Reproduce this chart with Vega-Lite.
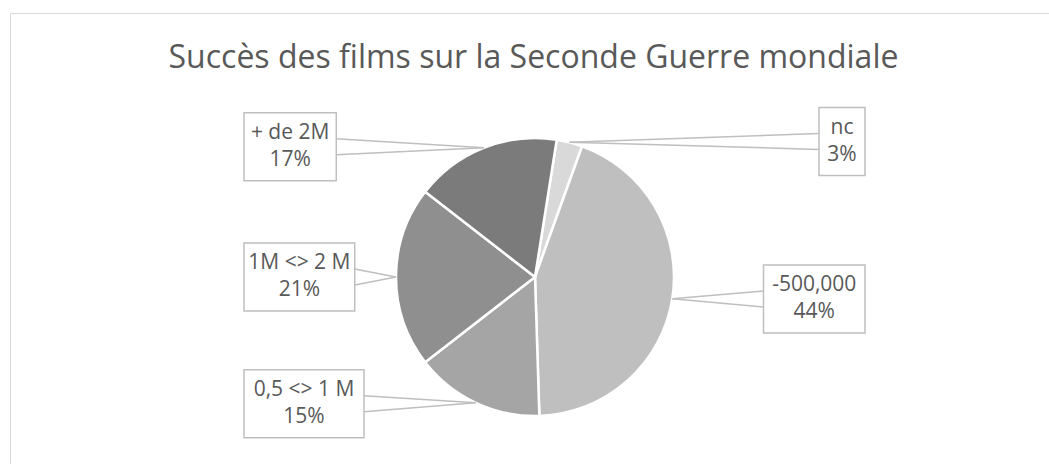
{
  "$schema": "https://vega.github.io/schema/vega-lite/v6.json",
  "width": 1039,
  "height": 451,
  "autosize": "none",
  "padding": {"left": 10, "top": 13, "right": 0, "bottom": 0},
  "background": "white",
  "config": {"view": {"stroke": "#d9d9d9", "strokeWidth": 1}, "font": "Open Sans"},
  "title": {
    "text": "Succès des films sur la Seconde Guerre mondiale",
    "font": "Open Sans",
    "fontSize": 32,
    "fontWeight": "normal",
    "color": "#595959",
    "anchor": "middle",
    "offset": -62,
    "dx": 4
  },
  "data": {
    "values": [
      {"categorie": "nc", "part": 3, "ordre": 1},
      {"categorie": "-500,000", "part": 44, "ordre": 2},
      {"categorie": "0,5 <> 1 M", "part": 15, "ordre": 3},
      {"categorie": "1M <> 2 M", "part": 21, "ordre": 4},
      {"categorie": "+ de 2M", "part": 17, "ordre": 5}
    ]
  },
  "transform": [
    {"window": [{"op": "sum", "field": "part", "as": "cumul"}], "sort": [{"field": "ordre"}], "frame": [null, 0]},
    {"joinaggregate": [{"op": "sum", "field": "part", "as": "total"}]},
    {"calculate": "(datum.cumul - datum.part / 2) / datum.total * 2 * PI + 0.15708", "as": "milieu"},
    {"calculate": "sin(datum.milieu) >= 0 ? 1 : -1", "as": "cote"},
    {"calculate": "datum.categorie + '\\n' + datum.part + '%'", "as": "etiquette"},
    {"calculate": "max(length(datum.categorie), length(datum.part + '%')) * 9.25 + 27.5", "as": "larg"},
    {"calculate": "datum.cote > 0 ? 330 - datum.larg : -291", "as": "bx1"},
    {"calculate": "datum.bx1 + datum.larg", "as": "bx2"},
    {"calculate": "(datum.bx1 + datum.bx2) / 2", "as": "bxc"},
    {"calculate": "cos(datum.milieu) * 140", "as": "byc"},
    {"calculate": "datum.byc - 34", "as": "by1"},
    {"calculate": "datum.byc + 34", "as": "by2"},
    {"calculate": "sin(datum.milieu) * 139", "as": "px"},
    {"calculate": "cos(datum.milieu) * 139", "as": "py"},
    {"calculate": "datum.cote > 0 ? datum.bx1 : datum.bx2", "as": "ax"},
    {"calculate": "datum.byc + 8", "as": "ay1"},
    {"calculate": "datum.byc - 8", "as": "ay2"}
  ],
  "layer": [
    {
      "mark": {"type": "arc", "outerRadius": 139, "stroke": "white", "strokeWidth": 2.5},
      "encoding": {
        "x": {"datum": 0, "type": "quantitative", "scale": {"domain": [-525, 514], "nice": false, "zero": false}, "axis": null},
        "y": {"datum": 0, "type": "quantitative", "scale": {"domain": [-187, 264], "nice": false, "zero": false}, "axis": null},
        "theta": {"field": "part", "type": "quantitative", "stack": true, "scale": {"range": [0.15708, 6.44026]}},
        "color": {
          "field": "categorie",
          "type": "nominal",
          "scale": {
            "domain": ["nc", "-500,000", "0,5 <> 1 M", "1M <> 2 M", "+ de 2M"],
            "range": ["#d9d9d9", "#bfbfbf", "#a5a5a5", "#8f8f8f", "#7b7b7b"]
          },
          "legend": null
        },
        "order": {"field": "ordre", "type": "quantitative"}
      }
    },
    {
      "mark": {"type": "rule", "color": "#bfbfbf", "strokeWidth": 1.5},
      "encoding": {
        "x": {"field": "px", "type": "quantitative", "scale": {"domain": [-525, 514], "nice": false, "zero": false}, "axis": null},
        "y": {"field": "py", "type": "quantitative", "scale": {"domain": [-187, 264], "nice": false, "zero": false}, "axis": null},
        "x2": {"field": "ax"},
        "y2": {"field": "ay1"}
      }
    },
    {
      "mark": {"type": "rule", "color": "#bfbfbf", "strokeWidth": 1.5},
      "encoding": {
        "x": {"field": "px", "type": "quantitative", "scale": {"domain": [-525, 514], "nice": false, "zero": false}, "axis": null},
        "y": {"field": "py", "type": "quantitative", "scale": {"domain": [-187, 264], "nice": false, "zero": false}, "axis": null},
        "x2": {"field": "ax"},
        "y2": {"field": "ay2"}
      }
    },
    {
      "mark": {"type": "rect", "fill": "white", "stroke": "#bfbfbf", "strokeWidth": 1.5},
      "encoding": {
        "x": {"field": "bx1", "type": "quantitative", "scale": {"domain": [-525, 514], "nice": false, "zero": false}, "axis": null},
        "x2": {"field": "bx2"},
        "y": {"field": "by1", "type": "quantitative", "scale": {"domain": [-187, 264], "nice": false, "zero": false}, "axis": null},
        "y2": {"field": "by2"}
      }
    },
    {
      "mark": {"type": "text", "font": "Open Sans", "fontSize": 21, "color": "#595959", "lineBreak": "\n", "lineHeight": 27, "align": "center", "baseline": "middle", "dy": -13.5},
      "encoding": {
        "x": {"field": "bxc", "type": "quantitative", "scale": {"domain": [-525, 514], "nice": false, "zero": false}, "axis": null},
        "y": {"field": "byc", "type": "quantitative", "scale": {"domain": [-187, 264], "nice": false, "zero": false}, "axis": null},
        "text": {"field": "etiquette"}
      }
    }
  ]
}
